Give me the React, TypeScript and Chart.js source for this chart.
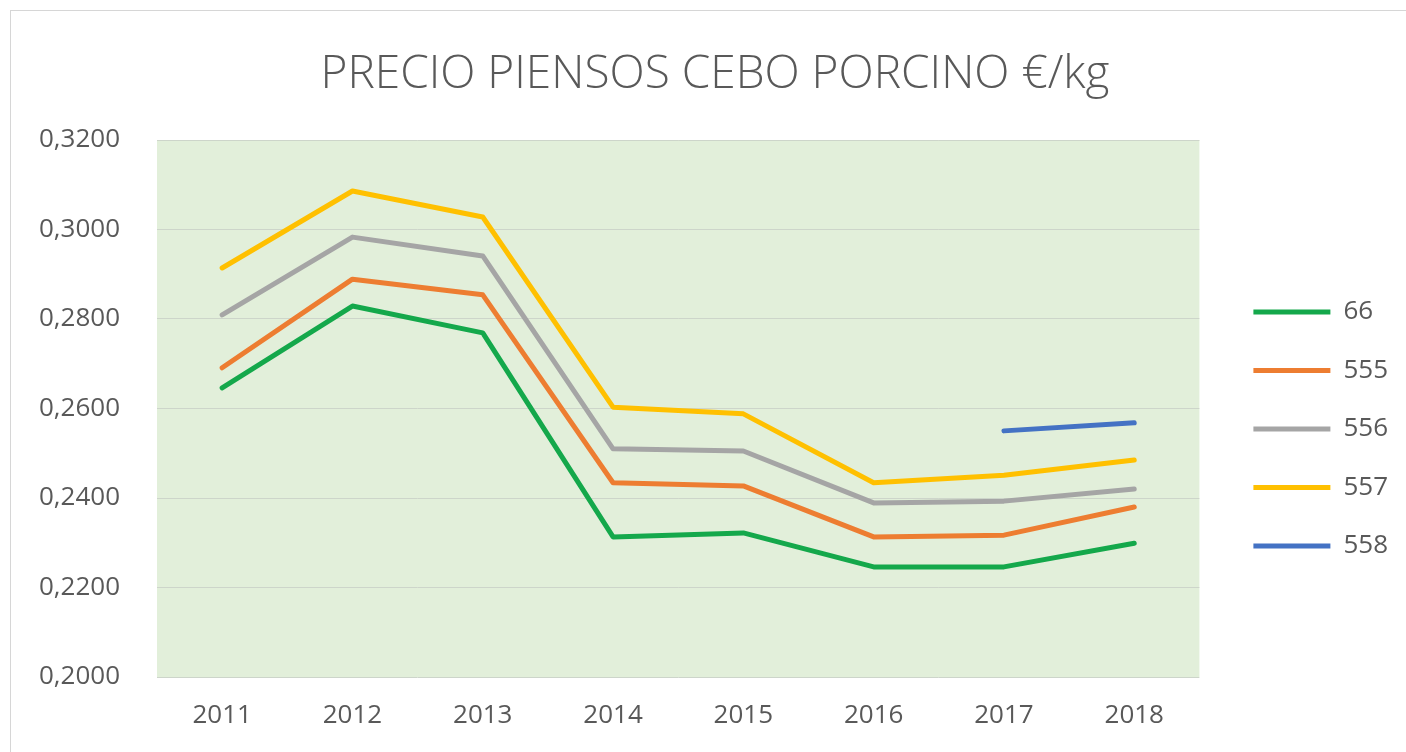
import React, { useEffect, useRef } from "react";
import { Chart, registerables } from "chart.js";

Chart.register(...registerables);

const years = ["2011", "2012", "2013", "2014", "2015", "2016", "2017", "2018"];
const s66 = [0.2646, 0.2829, 0.2769, 0.2313, 0.2322, 0.2246, 0.2246, 0.2299];
const s555 = [0.2691, 0.2889, 0.2854, 0.2434, 0.2427, 0.2313, 0.2317, 0.2380];
const s556 = [0.2809, 0.2983, 0.2941, 0.2510, 0.2505, 0.2389, 0.2393, 0.2420];
const s557 = [0.2914, 0.3086, 0.3028, 0.2603, 0.2588, 0.2434, 0.2451, 0.2485];
const s558 = [null, null, null, null, null, null, 0.2550, 0.2568];
const seriesNames = ["66", "555", "556", "557", "558"];
const yTicks = { min: 0.2, max: 0.32, step: 0.02 };
const titleText = "PRECIO PIENSOS CEBO PORCINO €/kg";

const FONT = "'Open Sans', 'DejaVu Sans', sans-serif";
const TEXT = "#595959";

const plotBg = {
  id: "plotBg",
  beforeDraw(chart: any) {
    const { ctx, chartArea } = chart;
    if (!chartArea) return;
    ctx.save();
    ctx.fillStyle = "#e2efda";
    ctx.fillRect(chartArea.left, chartArea.top, chartArea.right - chartArea.left, chartArea.bottom - chartArea.top);
    ctx.restore();
  },
};

export default function App() {
  const ref = useRef<HTMLCanvasElement | null>(null);

  useEffect(() => {
    if (!ref.current) return;
    const colors = ["#14a84b", "#ed7d31", "#a5a5a5", "#ffc000", "#4472c4"];
    const values = [s66, s555, s556, s557, s558];
    const chart = new Chart(ref.current, {
      type: "line",
      data: {
        labels: years,
        datasets: values.map((d, i) => ({
          label: seriesNames[i],
          data: d as any,
          borderColor: colors[i],
          backgroundColor: colors[i],
          borderWidth: 5,
          borderCapStyle: "round" as const,
          borderJoinStyle: "round" as const,
          pointRadius: 0,
          pointHoverRadius: 0,
          tension: 0,
          fill: false,
          spanGaps: false,
          pointStyle: "line" as const,
        })),
      },
      options: {
        animation: false,
        responsive: false,
        maintainAspectRatio: false,
        layout: { padding: { left: 32, right: 8, top: 0, bottom: 20.4 } },
        plugins: {
          title: {
            display: true,
            text: titleText,
            color: TEXT,
            font: { family: FONT, size: 46, weight: "300" as any, lineHeight: 1.2 },
            padding: { top: 47, bottom: 37.8 },
          },
          legend: {
            display: true,
            position: "right",
            align: "center",
            title: { display: true, text: "", padding: { top: 112, bottom: 0 } },
            labels: {
              usePointStyle: true,
              pointStyleWidth: 77,
              padding: 32.5,
              color: TEXT,
              font: { family: FONT, size: 26 },
            },
          },
          tooltip: { enabled: false },
        },
        scales: {
          x: {
            offset: true,
            grid: { display: false, drawTicks: false },
            border: { display: false },
            ticks: { color: TEXT, font: { family: FONT, size: 26, lineHeight: 1.2 }, padding: 23.4, maxRotation: 0 },
            afterFit: (s: any) => {
              s.height = 54.6;
            },
          },
          y: {
            min: yTicks.min,
            max: yTicks.max,
            grid: { color: "#cdd5ca", lineWidth: 1, drawTicks: false },
            border: { display: false },
            ticks: {
              stepSize: yTicks.step,
              color: TEXT,
              font: { family: FONT, size: 26, lineHeight: 1.2 },
              padding: 37,
              callback: (v: any) => Number(v).toFixed(4).replace(".", ","),
            },
            afterFit: (s: any) => {
              s.width = 125;
            },
          },
          gap: {
            position: "right",
            display: true,
            grid: { display: false, drawTicks: false },
            border: { display: false },
            ticks: { display: false },
            afterFit: (s: any) => {
              s.width = 21.5;
            },
          },
        },
      },
      plugins: [plotBg],
    });
    return () => chart.destroy();
  }, []);

  return (
    <div style={{ position: "fixed", left: 0, top: 0, width: 1406, height: 752, overflow: "hidden", background: "#fff" }}>
      <canvas ref={ref} width={1406} height={752} style={{ position: "absolute", left: 0, top: 0, width: 1406, height: 752 }} />
      <div
        style={{
          position: "absolute",
          left: 10,
          top: 10,
          width: 1420,
          height: 760,
          border: "1px solid #d6d6d6",
          pointerEvents: "none",
        }}
      />
    </div>
  );
}
